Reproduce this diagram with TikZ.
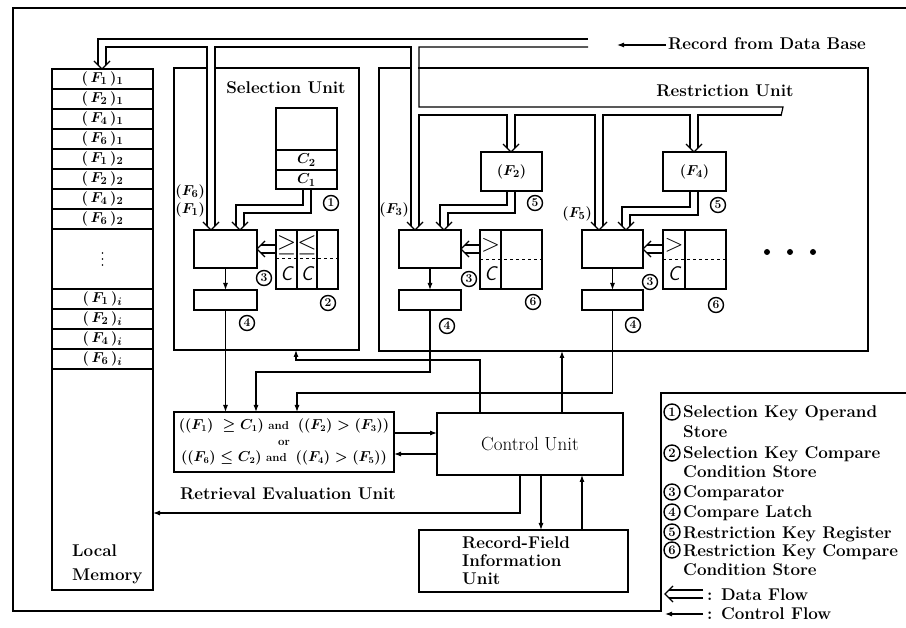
\documentclass[tikz,border=0pt]{standalone}
\usepackage{amsmath,amssymb}
\usetikzlibrary{arrows.meta}
\newcommand\bx[6][]{\node[bxs,#1,anchor=north west,minimum width={(#4-#2)*1pt},minimum height={(#5-#3)*1pt}] (#6) at (#2,#3) {};}
\newcommand\dvd[3]{\draw[bus] ({#1-4},{#3-8}) -- ({(#1+#2)/2},{#3}) -- ({#2+4},{#3-8});}
\newcommand\dvl[3]{\draw[bus] ({#3+8},{#1-4}) -- ({#3},{(#1+#2)/2}) -- ({#3+8},{#2+4});}
\begin{document}
\begin{tikzpicture}[x=1pt,y=-1pt,
 bxs/.style={draw,line width=1.6pt,inner sep=0pt,outer sep=0pt},
 unitbox/.style={draw,line width=1.3pt,inner sep=0pt,outer sep=0pt},
 bus/.style={line width=1.2pt},
 cell/.style={line width=1.3pt},
 ctl/.style={line width=1.1pt,-{Latex[length=7pt,width=5pt]}},
 cnum/.style={circle,draw,line width=1.4pt,inner sep=0pt,minimum size=15pt,font=\fontsize{12}{12}\selectfont\bfseries},
 lcnum/.style={cnum,minimum size=16pt,font=\fontsize{13}{13}\selectfont\bfseries},
 lbl/.style={font=\fontsize{17}{20}\selectfont\bfseries,inner sep=0pt},
 mlbl/.style={font=\fontsize{15}{17}\selectfont\boldmath,inner sep=0pt},
 sym/.style={font=\fontsize{25}{25}\selectfont,inner sep=0pt},
 csym/.style={font=\fontsize{20}{20}\selectfont\sffamily\itshape,inner sep=0pt},
]
\useasboundingbox (0,0) rectangle (906,628);
% outer frame
\draw[line width=1.4pt] (906,8) -- (13,8) -- (13,611) -- (661,611) -- (661,393) -- (906,393);

% local memory
\bx{52}{69}{153}{590}{mem}
\foreach \y in {89,109,129,149,169,189,209,229,289,309,329,349,369} \draw[cell] (52,\y) -- (153,\y);
\node[mlbl] at (102.5,79) {$(\,F_1\,)_1$};
\node[mlbl] at (102.5,99) {$(\,F_2\,)_1$};
\node[mlbl] at (102.5,119) {$(\,F_4\,)_1$};
\node[mlbl] at (102.5,139) {$(\,F_6\,)_1$};
\node[mlbl] at (102.5,159) {$(\,F_1\,)_2$};
\node[mlbl] at (102.5,179) {$(\,F_2\,)_2$};
\node[mlbl] at (102.5,199) {$(\,F_4\,)_2$};
\node[mlbl] at (102.5,219) {$(\,F_6\,)_2$};
\foreach \y in {253,259,265} \fill (102.5,\y) circle (0.9pt);
\node[mlbl] at (102.5,299) {$(\,F_1\,)_i$};
\node[mlbl] at (102.5,319) {$(\,F_2\,)_i$};
\node[mlbl] at (102.5,339) {$(\,F_4\,)_i$};
\node[mlbl] at (102.5,359) {$(\,F_6\,)_i$};
\node[lbl,anchor=base west] at (72,557) {Local};
\node[lbl,anchor=base west] at (72,580) {Memory};

% selection unit
\bx[unitbox]{174}{68}{359}{350}{selu}
\node[lbl,anchor=base] at (286,94) {Selection Unit};
\bx{276}{108}{337}{189}{ops}
\draw[cell] (276,150) -- (337,150) (276,170) -- (337,170);
\node[mlbl] at (306.5,160) {$C_2$};
\node[mlbl] at (306.5,180) {$C_1$};
\bx{194}{230}{257}{268}{scmp}
\bx{194}{290}{257}{310}{slat}
\bx{276}{230}{338}{289}{scnd}
\draw[cell] (297,230) -- (297,289) (317,230) -- (317,289);
\draw[line width=1pt,dashed] (276,259) -- (338,259);
\node[sym] at (286.5,245) {$\geq$};
\node[sym] at (307,245) {$\leq$};
\node[csym] at (286.5,274) {C};
\node[csym] at (307,274) {C};
\node[mlbl,anchor=east] at (205,192) {$(F_6)$};
\node[mlbl,anchor=east] at (205,210) {$(F_1)$};
\node[cnum] at (331,203) {1};
\node[cnum] at (328,303) {2};
\node[cnum] at (264,278) {3};
\node[cnum] at (247,323) {4};

% restriction unit
\bx[unitbox]{379}{68}{868}{351}{resu}
\node[lbl,anchor=base] at (725,97) {Restriction Unit};
\bx{481}{152}{542}{191}{rf2}
\node[mlbl] at (rf2) {$(F_2)$};
\bx{663}{152}{726}{191}{rf4}
\node[mlbl] at (rf4) {$(F_4)$};
\bx{399}{230}{461}{268}{rcmp1}
\bx{399}{290}{461}{310}{rlat1}
\bx{480}{230}{542}{289}{rcnd1}
\draw[cell] (501,230) -- (501,289);
\draw[line width=1pt,dashed] (480,260) -- (542,260);
\node[sym] at (490.5,245) {$>$};
\node[csym] at (490.5,274) {C};
\bx{582}{230}{643}{268}{rcmp2}
\bx{582}{290}{643}{310}{rlat2}
\bx{663}{230}{726}{289}{rcnd2}
\draw[cell] (685,230) -- (685,289);
\draw[line width=1pt,dashed] (663,260) -- (726,260);
\node[sym] at (674,245) {$>$};
\node[csym] at (674,274) {C};
\foreach \x in {767,790,813} \fill (\x,252) circle (3pt);
\node[mlbl,anchor=east] at (409,210) {$(F_3)$};
\node[mlbl,anchor=east] at (592,214) {$(F_5)$};
\node[cnum] at (535,203) {5};
\node[cnum] at (533,302) {6};
\node[cnum] at (469,279) {3};
\node[cnum] at (447,326) {4};
\node[cnum] at (718,205) {5};
\node[cnum] at (716,305) {6};
\node[cnum] at (650,282) {3};
\node[cnum] at (633,325) {4};

% masks where the bus enters the unit frames
\fill[white] (207.6,60) rectangle (214.4,76);
\fill[white] (411.6,60) rectangle (418.4,76);

% record from data base
\node[lbl,anchor=base west] at (668,50) {Record from Data Base};
\draw[ctl] (666,45) -- (617,45);

% data buses
\draw[bus] (98,65) -- (98,39) -- (588,39);
\draw[bus] (106,65) -- (106,47) -- (207,47) -- (207,226);
\draw[bus] (215,226) -- (215,47) -- (411,47) -- (411,226);
\draw[bus] (588,47) -- (419,47) -- (419,107) -- (783,107) -- (781,116);
\draw[bus] (419,226) -- (419,115) -- (507,115) -- (507,148);
\draw[bus] (515,148) -- (515,115) -- (595,115) -- (595,226);
\draw[bus] (603,226) -- (603,115) -- (690,115) -- (690,148);
\draw[bus] (698,148) -- (698,115) -- (781,115);
\dvd{98}{106}{69}
\dvd{207}{215}{230}
\dvd{411}{419}{230}
\dvd{507}{515}{152}
\dvd{595}{603}{230}
\dvd{690}{698}{152}
\draw[bus] (303,189) -- (303,205) -- (236,205) -- (236,226);
\draw[bus] (311,189) -- (311,213) -- (244,213) -- (244,226);
\dvd{236}{244}{230}
\draw[bus] (507,191) -- (507,205) -- (440,205) -- (440,226);
\draw[bus] (515,191) -- (515,213) -- (448,213) -- (448,226);
\dvd{440}{448}{230}
\draw[bus] (690,191) -- (690,207) -- (622,207) -- (622,226);
\draw[bus] (698,191) -- (698,215) -- (630,215) -- (630,226);
\dvd{622}{630}{230}
\draw[bus] (276,245) -- (261,245) (276,253) -- (261,253);
\dvl{245}{253}{257}
\draw[bus] (480,245) -- (465,245) (480,253) -- (465,253);
\dvl{245}{253}{461}
\draw[bus] (663,245) -- (647,245) (663,253) -- (647,253);
\dvl{245}{253}{643}

% lower units
\bx{174}{412}{394}{472}{reu}
\node[font=\fontsize{13.5}{16}\selectfont\boldmath,align=center,inner sep=0pt] at (reu) {$((F_1)\;\geq C_1)$ {\fontsize{11.5}{12}\selectfont\textbf{and}}\ \ $((F_2) > (F_3))$\\ {\fontsize{11.5}{12}\selectfont\textbf{or}}\\ $((F_6)\leq C_2)$ {\fontsize{11.5}{12}\selectfont\textbf{and}}\ \ $((F_4) > (F_5))$};
\node[lbl,anchor=base] at (288,500) {Retrieval Evaluation Unit};
\bx{437}{413}{623}{475}{cu}
\node[font=\fontsize{19}{19}\selectfont,inner sep=0pt] at (cu) {Control Unit};
\bx{419}{530}{628}{592}{rfiu}
\node[lbl,anchor=north west,align=left,font=\fontsize{17}{18}\selectfont\bfseries] at (462,537) {Record-Field\\Information\\Unit};

% control flow
\draw[ctl] (scmp.south) -- (slat.north);
\draw[ctl] (rcmp1.south) -- (rlat1.north);
\draw[ctl] (rcmp2.south) -- (rlat2.north);
\draw[ctl] (slat.south) -- (slat.south |- reu.north);
\draw[ctl] (rlat1.south) -- (430,372) -- (256,372) -- (256,412);
\draw[ctl] (rlat2.south) -- (612.5,393) -- (297,393) -- (297,412);
\draw[ctl] (480,413) -- (480,360) -- (296,360) -- (296,350);
\draw[ctl] (562,413) -- (562,351);
\draw[ctl] (394,433) -- (437,433);
\draw[ctl] (437,454) -- (394,454);
\draw[ctl] (520,475) -- (520,513) -- (153,513);
\draw[ctl] (541,475) -- (541,530);
\draw[ctl] (582,530) -- (582,475);

% legend
\node[lcnum] at (672,412) {1};
\node[lcnum] at (672,453) {2};
\node[lcnum] at (672,492) {3};
\node[lcnum] at (672,512) {4};
\node[lcnum] at (672,532) {5};
\node[lcnum] at (672,550) {6};
\node[lbl,anchor=base west] at (683,418) {Selection Key Operand};
\node[lbl,anchor=base west] at (683,438) {Store};
\node[lbl,anchor=base west] at (683,459) {Selection Key Compare};
\node[lbl,anchor=base west] at (683,478) {Condition Store};
\node[lbl,anchor=base west] at (683,498) {Comparator};
\node[lbl,anchor=base west] at (683,518) {Compare Latch};
\node[lbl,anchor=base west] at (683,538) {Restriction Key Register};
\node[lbl,anchor=base west] at (683,556) {Restriction Key Compare};
\node[lbl,anchor=base west] at (683,576) {Condition Store};
\draw[bus] (703,590) -- (669,590) (703,598) -- (669,598);
\dvl{590}{598}{665}
\node[lbl,anchor=base west] at (707,600) {: Data Flow};
\draw[ctl] (703,614) -- (665,614);
\node[lbl,anchor=base west] at (707,619) {: Control Flow};
\end{tikzpicture}
\end{document}
